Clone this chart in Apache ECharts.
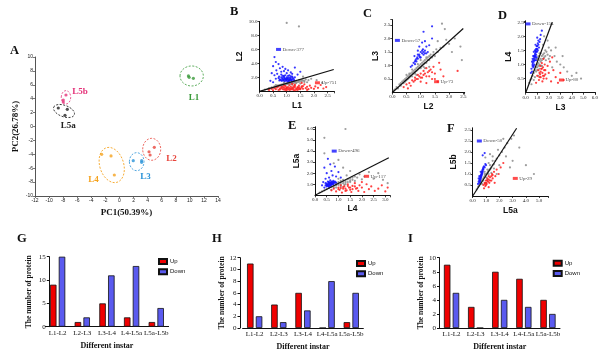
<!DOCTYPE html>
<html>
<head>
<meta charset="utf-8">
<script src="https://cdn.jsdelivr.net/npm/echarts@6/dist/echarts.min.js"></script>
<style>
  html, body { margin: 0; padding: 0; background: #fff; }
  #main { width: 601px; height: 352px; }
</style>
</head>
<body>
<div id="main"></div>
<script>
// ---- A: PCA scores ----
const pcaL1 = [[9.8, 7.27], [9.9, 7.08], [10.5, 6.93]];
const pcaL2 = [[4.2, -3.63], [4.95, -3.0], [4.35, -4.1]];
const pcaL3 = [[1.96, -4.92], [3.15, -4.92], [3.15, -5.16]];
const pcaL4 = [[-2.53, -4.0], [-1.2, -4.24], [-0.73, -6.98]];
const pcaL5a = [[-8.69, 2.66], [-7.41, 2.47], [-7.74, 1.61]];
const pcaL5b = [[-7.6, 4.53], [-7.98, 3.81], [-7.98, 3.52]];

// ---- B-F: expression scatter (hand read, approximate) ----
const bOther = [[0.2,0.25],[0.3,0.3],[0.35,0.45],[0.4,0.4],[0.45,0.55],[0.5,0.5],[0.55,0.7],[0.6,0.6],[0.65,0.8],[0.7,0.75],[0.75,0.9],[0.8,0.85],[0.85,1.0],[0.9,0.95],[0.95,1.1],[1.0,1.05],[1.05,1.2],[1.1,1.1],[1.15,1.3],[1.2,1.2],[1.25,1.4],[1.3,1.3],[1.35,1.5],[1.4,1.35],[1.45,1.6],[1.5,1.5],[1.55,1.65],[1.6,1.55],[1.7,1.7],[1.8,1.6],[1.9,1.8],[1.0,9.8],[1.45,9.3],[1.6,2.1],[1.75,1.3],[0.9,1.3],[1.2,0.95],[1.35,1.15],[1.65,1.35],[0.6,0.9],[1.1,1.45],[2.1,1.6],[2.3,1.2],[1.5,1.1],
  [0.7,0.85],[0.8,0.95],[0.9,1.05],[1.0,1.15],[1.1,1.25],[1.2,1.35],[1.3,1.45],[0.95,0.9],[1.05,1.0],[1.15,1.05],[1.25,1.15],[1.35,1.25],[1.45,1.35],[1.55,1.4],[1.65,1.5],[0.85,0.8]];
const bUp = [[0.35,0.2],[0.45,0.35],[0.5,0.15],[0.55,0.45],[0.6,0.3],[0.65,0.55],[0.7,0.2],[0.75,0.4],[0.8,0.65],[0.85,0.3],[0.9,0.5],[0.95,0.75],[1.0,0.35],[1.05,0.6],[1.1,0.85],[1.15,0.25],[1.2,0.5],[1.25,0.7],[1.3,0.95],[1.35,0.4],[1.4,0.6],[1.45,0.8],[1.5,0.3],[1.55,0.55],[1.6,0.75],[1.65,1.0],[1.7,0.45],[1.75,0.65],[1.8,0.3],[1.85,0.8],[1.9,0.5],[2.0,0.35],[2.05,0.7],[2.15,0.5],[2.25,0.9],[2.35,0.4],[2.45,0.6],[1.0,0.15],[1.3,0.15],[0.9,0.8],[1.2,1.05],[1.55,1.2],[0.7,0.7],[1.4,0.2],[1.75,0.2],
  [0.75,0.25],[0.8,0.45],[0.85,0.6],[0.9,0.25],[0.95,0.4],[1.0,0.55],[1.05,0.3],[1.1,0.45],[1.15,0.65],[1.2,0.3],[1.25,0.45],[1.3,0.6],[1.35,0.25],[1.4,0.45],[1.45,0.55],[1.5,0.4],[1.55,0.7],[1.6,0.35],[1.1,0.2],[1.25,0.2],[0.95,0.2],[1.45,0.3],[1.3,0.8],[1.15,0.4],[1.0,0.5]];
const bDown = [[0.55,4.9],[0.6,4.2],[0.5,3.6],[0.7,3.9],[0.75,3.3],[0.62,3.0],[0.85,3.5],[0.9,2.9],[0.95,3.2],[1.05,3.0],[1.15,2.7],[1.3,3.4],[0.45,2.6],[0.55,2.3],[0.65,2.5],[0.72,2.1],[0.8,2.4],[0.85,1.9],[0.9,2.2],[0.95,1.8],[1.0,2.0],[1.05,1.7],[1.1,2.3],[1.15,1.9],[1.2,2.1],[1.25,1.8],[1.3,2.0],[0.75,1.7],[0.82,1.5],[0.88,1.65],[0.93,1.45],[0.98,1.6],[1.03,1.4],[1.08,1.55],[1.13,1.65],[1.18,1.5],[0.7,1.9],[0.6,1.8],[1.4,2.4],[1.5,2.8],[0.4,1.5],[0.5,1.3],[1.0,2.6],[0.8,2.8],[1.2,2.5],
  [0.78,1.6],[0.83,1.75],[0.87,1.55],[0.92,1.9],[0.97,1.7],[1.02,1.85],[1.07,1.45],[1.12,1.75],[1.17,1.6],[1.22,1.95],[0.8,2.0],[0.9,2.05],[1.0,1.55],[1.1,1.95],[1.2,1.7],[0.85,2.2],[0.95,2.3],[1.05,2.2],[1.15,2.15],[0.73,1.55],[1.27,1.6],[1.0,1.75],[0.9,1.7],[1.1,1.6],[1.05,1.9]];

const cOther = [[0.05,0.08],[0.1,0.12],[0.15,0.2],[0.2,0.15],[0.25,0.3],[0.3,0.25],[0.35,0.4],[0.4,0.35],[0.45,0.5],[0.5,0.45],[0.55,0.6],[0.6,0.55],[0.65,0.7],[0.7,0.6],[0.75,0.8],[0.8,0.75],[0.85,0.9],[0.9,0.85],[0.95,1.0],[1.0,0.95],[1.05,1.1],[1.1,1.05],[1.15,1.2],[1.2,1.1],[1.25,1.3],[1.3,1.2],[1.35,1.4],[1.4,1.3],[1.45,1.5],[1.5,1.35],[1.55,1.6],[1.6,1.5],[1.7,1.65],[1.8,1.7],[1.9,1.95],[2.0,1.8],[2.2,2.0],[1.75,2.55],[1.85,2.35],[2.4,1.7],[2.45,1.2],[1.6,1.9],[1.3,0.95],[1.0,1.2],[0.7,0.85],[0.5,0.65],[0.85,0.65],[1.15,0.9],[2.1,1.5],
  [0.3,0.35],[0.4,0.45],[0.5,0.55],[0.6,0.65],[0.7,0.75],[0.8,0.85],[0.9,0.95],[1.0,1.05],[1.1,1.15],[1.2,1.25],[1.3,1.35],[0.45,0.4],[0.55,0.5],[0.65,0.6],[0.75,0.7],[0.85,0.8],[0.95,0.9],[1.05,1.0],[1.15,1.1],[1.25,1.2],[1.35,1.3],[1.45,1.4],[0.6,0.7],[0.8,0.7],[1.0,0.9],[1.2,1.3],[0.9,1.05],[1.1,0.95]];
const cUp = [[0.4,0.2],[0.5,0.3],[0.6,0.35],[0.65,0.25],[0.7,0.45],[0.75,0.4],[0.8,0.55],[0.85,0.5],[0.9,0.65],[0.95,0.6],[1.0,0.7],[1.05,0.55],[1.1,0.8],[1.15,0.7],[1.2,0.9],[1.25,0.75],[1.3,0.6],[1.35,0.85],[1.4,0.5],[1.45,0.95],[1.5,0.7],[1.6,0.4],[1.7,0.85],[1.8,0.6],[1.0,0.4],[1.2,0.35],[2.3,0.8],[0.55,0.15],[1.65,1.1],
  [0.9,0.5],[1.0,0.55],[1.1,0.65],[1.2,0.6],[1.3,0.8],[0.8,0.45],[1.4,0.75],[1.5,0.5]];
const cDown = [[0.65,0.95],[0.7,1.0],[0.75,1.1],[0.8,1.05],[0.82,1.2],[0.85,1.15],[0.88,1.3],[0.9,1.25],[0.95,1.4],[0.98,1.3],[1.0,1.5],[1.05,1.45],[1.08,1.6],[1.1,1.4],[1.15,1.55],[1.2,1.7],[1.25,1.5],[1.3,1.75],[0.95,1.7],[1.05,1.85],[0.78,1.35],[1.15,1.9],[1.4,2.0],[0.9,1.55],[1.2,1.45],[1.4,2.45],[1.1,2.25],
  [0.85,1.25],[0.95,1.35],[1.0,1.3],[1.05,1.55],[1.1,1.5],[0.8,1.15],[0.9,1.4],[1.15,1.45]];

const dOther = [[0.3,0.35],[0.4,0.45],[0.5,0.5],[0.6,0.6],[0.7,0.7],[0.8,0.8],[0.9,0.9],[1.0,1.0],[1.1,1.05],[1.2,1.15],[1.3,1.2],[1.4,1.3],[1.5,1.35],[1.6,1.4],[1.7,1.5],[1.8,1.45],[2.0,1.6],[2.2,1.5],[2.5,1.3],[2.7,1.1],[3.0,1.0],[3.3,0.9],[3.6,0.75],[4.0,0.6],[4.4,0.7],[4.8,0.5],[1.5,1.7],[1.2,1.4],[0.9,1.2],[1.1,0.6],[1.35,0.95],[1.75,1.15],[2.0,1.2],[2.3,0.9],[1.0,0.8],[0.8,0.55],[2.6,1.6],[3.2,1.3],[1.6,2.0],[1.9,1.85],[0.5,0.3],[0.7,0.45],
  [0.9,0.75],[1.0,0.9],[1.1,0.95],[1.2,1.0],[1.3,1.1],[1.4,1.15],[1.5,1.2],[1.6,1.25],[1.2,0.85],[1.4,0.95],[1.7,1.3],[1.9,1.35],[2.1,1.3],[1.3,1.4],[1.0,1.2],[1.1,1.3]];
const dUp = [[1.0,0.6],[1.1,0.8],[1.2,0.7],[1.25,0.95],[1.3,0.55],[1.35,0.85],[1.4,1.05],[1.45,0.7],[1.5,0.9],[1.55,1.2],[1.6,0.6],[1.65,1.0],[1.7,0.8],[1.8,0.5],[1.9,0.95],[2.0,0.7],[2.1,1.1],[2.2,0.4],[2.4,0.8],[2.6,0.55],[2.8,0.35],[3.0,0.7],[3.3,0.45],[1.15,0.45],[1.45,0.4],[2.3,1.25],[0.9,0.35],
  [1.2,0.55],[1.3,0.75],[1.4,0.85],[1.5,0.6],[1.6,0.8],[1.7,0.65],[1.25,0.65],[1.55,0.5]];
const dDown = [[0.45,0.7],[0.5,0.85],[0.55,0.75],[0.6,0.95],[0.62,1.05],[0.65,0.9],[0.7,1.1],[0.72,1.2],[0.75,1.0],[0.78,1.3],[0.8,1.15],[0.82,1.4],[0.85,1.25],[0.88,1.5],[0.9,1.35],[0.95,1.55],[0.98,1.45],[1.0,1.65],[1.05,1.5],[1.1,1.7],[1.15,1.6],[1.2,1.8],[1.25,1.9],[0.6,1.2],[0.7,1.45],[0.85,1.7],[1.0,1.95],[1.3,2.05],[1.4,2.2],[0.55,1.1],[0.9,1.15],
  [0.65,1.15],[0.75,1.25],[0.8,1.35],[0.85,1.45],[0.9,1.55],[0.95,1.65],[0.7,1.3],[0.8,1.5],[0.9,1.45],[1.0,1.55],[1.05,1.75],[0.75,1.15],[0.85,1.3],[0.95,1.25],[1.1,1.85],[0.6,1.0],[0.7,0.95],[0.65,1.3]];

const eOther = [[0.2,0.25],[0.3,0.35],[0.4,0.45],[0.5,0.55],[0.6,0.65],[0.7,0.75],[0.8,0.85],[0.9,0.95],[1.0,1.05],[1.1,1.15],[1.2,1.25],[1.3,1.3],[1.4,1.45],[1.5,1.5],[1.6,1.6],[1.7,1.7],[1.8,1.6],[1.9,1.9],[2.1,1.7],[2.3,2.1],[2.5,1.5],[2.7,2.0],[1.3,6.0],[0.4,5.2],[0.4,3.8],[1.0,3.2],[1.2,2.5],[0.8,2.9],[1.5,2.2],[1.0,1.5],[1.25,0.95],[1.5,1.2],[0.9,0.7],[1.1,0.8],[0.7,0.5],[1.7,1.3],[2.0,1.45],[1.35,1.8],[3.1,1.1],[2.9,1.4],
  [0.9,0.9],[1.0,0.95],[1.1,1.0],[1.2,1.1],[1.3,1.15],[1.4,1.2],[1.0,1.2],[1.2,1.4],[0.8,0.7],[1.5,1.3],[1.6,1.4],[1.1,1.3],[1.3,1.0],[0.9,1.1]];
const eUp = [[0.7,0.45],[0.8,0.6],[0.9,0.35],[1.0,0.7],[1.05,0.5],[1.1,0.9],[1.2,0.6],[1.25,0.8],[1.3,0.4],[1.4,1.0],[1.45,0.7],[1.5,0.5],[1.6,0.85],[1.7,1.1],[1.75,0.6],[1.85,0.4],[1.9,0.9],[2.0,0.7],[2.1,0.3],[2.2,1.0],[2.3,0.55],[2.4,0.8],[2.55,0.4],[2.7,0.6],[2.85,0.9],[3.0,0.35],[3.1,0.7],[1.15,0.25],[1.55,0.3],[2.0,1.2],
  [1.0,0.55],[1.2,0.75],[1.3,0.6],[1.4,0.85],[1.5,0.7],[1.6,0.55],[1.7,0.8],[1.8,0.65],[1.1,0.65],[1.35,0.45]];
const eDown = [[0.4,0.7],[0.45,0.9],[0.5,0.8],[0.5,1.05],[0.55,0.95],[0.58,0.85],[0.6,1.1],[0.62,0.9],[0.65,1.0],[0.68,1.15],[0.7,0.95],[0.72,1.05],[0.75,1.2],[0.78,1.0],[0.8,1.1],[0.85,1.25],[0.9,1.15],[0.55,1.25],[0.65,1.35],[0.45,1.5],[0.6,1.6],[0.75,1.8],[0.5,2.0],[0.7,2.2],[0.9,1.7],[0.4,2.5],[0.65,2.8],[0.55,3.3],[1.0,2.1],[0.35,1.2],[0.85,2.6],[1.1,1.6],[0.3,0.9],[0.6,0.75],
  [0.5,0.9],[0.55,1.0],[0.6,0.95],[0.65,1.1],[0.7,1.05],[0.75,1.0],[0.8,1.2],[0.6,1.2],[0.7,1.25],[0.5,0.95],[0.55,0.85],[0.65,0.85],[0.75,1.1],[0.62,1.05],[0.68,0.95],[0.72,1.15],[0.58,1.15],[0.45,1.1],[0.85,1.15],[0.78,1.3]];

const fOther = [[0.3,0.3],[0.4,0.4],[0.5,0.5],[0.6,0.6],[0.7,0.7],[0.8,0.8],[0.9,0.9],[1.0,1.0],[1.1,1.05],[1.2,1.15],[1.3,1.2],[1.4,1.3],[1.5,1.4],[1.6,1.45],[1.7,1.6],[1.8,1.7],[2.0,1.85],[2.2,2.0],[2.4,2.2],[2.6,2.4],[2.9,2.6],[3.1,2.75],[2.5,1.8],[3.0,1.6],[3.5,2.2],[1.5,1.8],[1.2,1.5],[2.0,1.4],[0.9,1.1],[1.1,0.75],[1.6,1.25],[2.8,1.3],[4.0,1.4],[4.6,1.0],[1.0,0.6],[0.7,0.55],[1.4,1.05],[1.9,2.1],[2.3,2.6],[0.95,1.75],[1.3,1.9],[1.8,1.0],
  [0.45,0.45],[0.55,0.55],[0.65,0.65],[0.75,0.75],[0.85,0.85],[0.95,0.95],[1.05,1.0],[1.15,1.1],[1.25,1.2],[1.35,1.25],[0.8,0.7],[1.0,0.85],[1.2,1.0],[0.9,1.0],[1.1,1.2],[1.3,1.4],[1.5,1.6]];
const fUp = [[0.8,0.5],[0.9,0.6],[0.95,0.45],[1.0,0.7],[1.05,0.55],[1.1,0.8],[1.15,0.65],[1.2,0.9],[1.25,0.6],[1.3,0.85],[1.4,0.7],[1.45,1.0],[1.5,0.8],[1.6,1.1],[1.7,0.9],[1.8,1.2],[1.95,1.0],[2.1,1.3],[1.2,0.4],[0.85,0.35],[2.3,1.5],[1.65,0.6],
  [0.9,0.55],[1.0,0.6],[1.1,0.7],[1.2,0.75],[1.3,0.7],[1.4,0.9],[1.5,0.95],[1.0,0.5]];
const fDown = [[0.4,0.55],[0.45,0.65],[0.5,0.6],[0.52,0.75],[0.55,0.7],[0.58,0.85],[0.6,0.8],[0.62,0.95],[0.65,0.9],[0.68,1.05],[0.7,1.0],[0.72,1.15],[0.75,1.1],[0.78,1.25],[0.8,1.2],[0.85,1.35],[0.9,1.3],[0.95,1.45],[0.6,1.1],[0.5,0.9],[0.9,1.95],[0.75,1.85],[1.0,1.4],[0.45,0.8],
  [0.5,0.7],[0.55,0.8],[0.6,0.9],[0.65,1.0],[0.7,1.1],[0.75,1.2],[0.55,0.65],[0.62,0.85],[0.68,0.95],[0.72,1.05],[0.8,1.3],[0.58,0.75]];

// fitted lines (start, end) and counts
const bLine = [[0, 0], [2.73, 3.13]];
const cLine = [[0, 0], [2.5, 2.37]];
const dLine = [[0, 0], [2.3, 2.5]];
const eLine = [[0, 0], [3.15, 3.4]];
const fLine = [[0, 0], [3.3, 3.08]];
const bTags = [['Down-377', 0.7, 6.0], ['Up-751', 2.13, 1.22]];
const cTags = [['Down-57', 0.18, 1.93], ['Up-73', 1.56, 0.4]];
const dTags = [['Down-154', 0.2, 2.44], ['Up-80', 3.1, 0.45]];
const eTags = [['Down-496', 0.82, 4.0], ['Up-117', 2.2, 1.72]];
const fTags = [['Down-50', 0.5, 2.5], ['Up-29', 3.2, 0.8]];
const fYLabels = ['', '0.5', '1.0', '1.5', '2.0', '2.5', '2.5'];

// ---- G-I: protein counts ----
const instars = ['L1-L2', 'L2-L3', 'L3-L4', 'L4-L5a', 'L5a-L5b'];
const gUp = [9, 1, 5, 2, 1];
const gDown = [15, 2, 11, 13, 4];
const hUp = [11, 4, 6, 0, 1];
const hDown = [2, 1, 3, 8, 6];
const iUp = [9, 3, 8, 7, 4];
const iDown = [5, 0, 4, 3, 2];

const SERIF = 'Liberation Serif';
const SANS = 'Liberation Sans';
const BLUE = '#1414ff', RED = '#ff2020', GREY = '#8c8c8c';

function numAxis(grid, min, max, step, name, gap, opts) {
  opts = opts || {};
  return {
    type: 'value', gridIndex: grid, min: min, max: max, interval: step,
    name: name, nameLocation: 'middle', nameGap: gap,
    nameTextStyle: opts.nameStyle || { fontFamily: SANS, fontWeight: 'bold', fontSize: 8.5, color: '#111' },
    axisLine: { show: true, onZero: false, lineStyle: { color: opts.lineColor || '#111', width: 1 } },
    axisTick: { show: true, length: 2, lineStyle: { color: opts.lineColor || '#111', width: 0.8 } },
    axisLabel: {
      fontFamily: opts.labelFont || SERIF, fontSize: opts.labelSize || 5, margin: 2, color: '#222',
      showMinLabel: opts.showMin !== false,
      formatter: opts.formatter || function (v) {
        const k = Math.round(v / step);
        return Math.abs(v / step - k) < 1e-6 ? v.toFixed(1) : '';
      }
    },
    splitLine: { show: false }
  };
}

function cloud(grid, pts, color) {
  return {
    type: 'scatter', xAxisIndex: grid, yAxisIndex: grid, data: pts,
    symbolSize: 2.2, itemStyle: { color: color, opacity: 0.85 }, silent: true
  };
}

function scatterPanel(grid, other, up, down, line, tags) {
  return [
    cloud(grid, other, GREY),
    cloud(grid, up, RED),
    cloud(grid, down, BLUE),
    {
      type: 'line', xAxisIndex: grid, yAxisIndex: grid, data: line,
      symbol: 'none', lineStyle: { color: '#111', width: 1.2 }, z: 5, silent: true
    },
    {
      type: 'scatter', xAxisIndex: grid, yAxisIndex: grid, symbol: 'rect', symbolSize: [5, 3], z: 6,
      data: tags.map(function (t) {
        return { name: t[0], value: [t[1], t[2]], itemStyle: { color: t[0].indexOf('Up') === 0 ? RED : BLUE } };
      }),
      label: { show: true, position: 'right', distance: 1.5, formatter: '{b}', fontFamily: SERIF, fontSize: 5, color: '#222' }
    }
  ];
}

function barAxes(grid, max, step, yGap, yOffset) {
  return {
    x: {
      type: 'category', gridIndex: grid, data: instars,
      name: 'Different instar', nameLocation: 'middle', nameGap: 15,
      nameTextStyle: { fontFamily: SERIF, fontWeight: 'bold', fontSize: 8, color: '#111' },
      axisLine: { lineStyle: { color: '#111', width: 1 } },
      axisTick: { alignWithLabel: true, length: 2, lineStyle: { color: '#111' } },
      axisLabel: { interval: 0, fontFamily: SERIF, fontSize: 7, margin: 3, color: '#111' }
    },
    y: {
      type: 'value', gridIndex: grid, min: 0, max: max, interval: step, offset: yOffset,
      name: 'The number of protein', nameLocation: 'middle', nameGap: yGap,
      nameTextStyle: { fontFamily: SERIF, fontWeight: 'bold', fontSize: 7.5, color: '#111' },
      axisLine: { show: true, lineStyle: { color: '#111', width: 1 } },
      axisTick: { show: true, length: 2.5, lineStyle: { color: '#111' } },
      axisLabel: { fontFamily: SERIF, fontSize: 7, margin: 3.5, color: '#111' },
      splitLine: { show: false }
    }
  };
}

function bars(grid, up, down) {
  const common = { type: 'bar', xAxisIndex: grid, yAxisIndex: grid, barWidth: 6.5, barGap: '35%' };
  return [
    Object.assign({ name: 'Up', data: up, itemStyle: { color: '#f00000', borderColor: '#111', borderWidth: 0.8 } }, common),
    Object.assign({ name: 'Down', data: down, itemStyle: { color: '#5a5aef', borderColor: '#111', borderWidth: 0.8 } }, common)
  ];
}

const gAx = barAxes(6, 15, 5, 16, -4);
const hAx = barAxes(7, 12, 2, 10, 2.6);
const iAx = barAxes(8, 10, 2, 11.5, 0);

const pcaAxisStyle = {
  nameStyle: { fontFamily: SERIF, fontWeight: 'bold', fontSize: 9, color: '#111' },
  lineColor: '#555', labelFont: SANS, labelSize: 5,
  formatter: function (v) { return String(v); }
};

const letters = [['A', 10, 44], ['B', 230, 5], ['C', 363, 7], ['D', 498, 9], ['E', 288, 119],
  ['F', 447, 122], ['G', 17, 232], ['H', 212, 232], ['I', 408, 232]];

const pcaGroups = [
  { name: 'L1', data: pcaL1, color: '#3a9a3a' },
  { name: 'L2', data: pcaL2, color: '#e8453c' },
  { name: 'L3', data: pcaL3, color: '#2b93d8' },
  { name: 'L4', data: pcaL4, color: '#f5a31f' },
  { name: 'L5a', data: pcaL5a, color: '#222222' },
  { name: 'L5b', data: pcaL5b, color: '#e5337a' }
];

const option = {
  animation: false,
  backgroundColor: '#fff',
  textStyle: { fontFamily: SERIF },
  title: letters.map(function (l) {
    return { text: l[0], left: l[1], top: l[2], padding: 0,
      textStyle: { fontFamily: SERIF, fontWeight: 'bold', fontSize: 12.5, color: '#111' } };
  }),
  legend: [[158, 258], [356, 260], [552.7, 259.8]].map(function (p) {
    return { data: ['Up', 'Down'], left: p[0], top: p[1], orient: 'vertical', padding: 0,
      itemWidth: 8, itemHeight: 5, itemGap: 3.3, icon: 'rect', selectedMode: false,
      textStyle: { fontFamily: SANS, fontSize: 6, color: '#111', padding: [0, 0, 0, -2] } };
  }),
  grid: [
    { left: 35, top: 57, width: 183, height: 139 },
    { left: 259.5, top: 21.5, width: 74.8, height: 69.8 },
    { left: 392.3, top: 19.6, width: 72.4, height: 72.9 },
    { left: 525.7, top: 20.8, width: 72.2, height: 71.9 },
    { left: 315, top: 126.8, width: 75, height: 68.5 },
    { left: 472.7, top: 127.8, width: 75.2, height: 68.2 },
    { left: 45.3, top: 256.7, width: 123.3, height: 70 },
    { left: 242.6, top: 257.7, width: 120.75, height: 70.3 },
    { left: 439.5, top: 257.7, width: 120.5, height: 70.6 }
  ],
  xAxis: [
    numAxis(0, -12, 14, 2, 'PC1(50.39%)', 12, pcaAxisStyle),
    numAxis(1, 0, 2.75, 0.5, 'L1', 10),
    numAxis(2, 0, 2.55, 0.5, 'L2', 10),
    numAxis(3, 0, 6.05, 1, 'L3', 10),
    numAxis(4, 0, 3.2, 0.5, 'L4', 9),
    numAxis(5, 0, 5.65, 1, 'L5a', 10),
    gAx.x, hAx.x, iAx.x
  ],
  yAxis: [
    numAxis(0, -10, 10, 2, 'PC2(26.78%)', 15, pcaAxisStyle),
    numAxis(1, 0, 10, 2, 'L2', 15, { showMin: false }),
    numAxis(2, 0, 2.7, 0.5, 'L3', 10, { showMin: false }),
    numAxis(3, 0, 2.55, 0.5, 'L4', 11, { showMin: false }),
    numAxis(4, 0, 6.2, 1, 'L5a', 14, { showMin: false }),
    numAxis(5, 0, 3.1, 0.5, 'L5b', 15, { showMin: false,
      formatter: function (v) { return fYLabels[Math.round(v / 0.5)] || ''; } }),
    gAx.y, hAx.y, iAx.y
  ],
  series: [].concat(
    pcaGroups.map(function (g) {
      return { type: 'scatter', name: 'pca-' + g.name, xAxisIndex: 0, yAxisIndex: 0, data: g.data,
        symbolSize: 3.2, itemStyle: { color: g.color } };
    }),
    scatterPanel(1, bOther, bUp, bDown, bLine, bTags),
    scatterPanel(2, cOther, cUp, cDown, cLine, cTags),
    scatterPanel(3, dOther, dUp, dDown, dLine, dTags),
    scatterPanel(4, eOther, eUp, eDown, eLine, eTags),
    scatterPanel(5, fOther, fUp, fDown, fLine, fTags),
    bars(6, gUp, gDown),
    bars(7, hUp, hDown),
    bars(8, iUp, iDown)
  )
};

const chart = echarts.init(document.getElementById('main'), null, { renderer: 'canvas' });
chart.setOption(option);

// dashed group ellipses and group labels in panel A, placed through the axis scales
const rings = [
  { g: 'L1', c: [10.26, 7.27], rx: 1.66, ry: 1.44, rot: 0, lab: [10.6, 4.2] },
  { g: 'L2', c: [4.58, -3.28], rx: 1.28, ry: 1.58, rot: 0, lab: [7.4, -4.6] },
  { g: 'L3', c: [2.45, -5.06], rx: 1.04, ry: 1.3, rot: 0, lab: [3.7, -7.2] },
  { g: 'L4', c: [-1.1, -5.54], rx: 1.7, ry: 2.6, rot: 0.3, lab: [-3.7, -7.7] },
  { g: 'L5a', c: [-7.88, 2.23], rx: 1.56, ry: 0.82, rot: -0.35, lab: [-7.27, 0.12] },
  { g: 'L5b', c: [-7.6, 4.2], rx: 0.67, ry: 0.96, rot: 0, lab: [-5.6, 5.0] }
];
const o = chart.convertToPixel({ gridIndex: 0 }, [0, 0]);
const u = chart.convertToPixel({ gridIndex: 0 }, [1, 1]);
const sx = Math.abs(u[0] - o[0]), sy = Math.abs(u[1] - o[1]);
const gfx = [];
rings.forEach(function (r) {
  const col = pcaGroups.filter(function (g) { return g.name === r.g; })[0].color;
  const p = chart.convertToPixel({ gridIndex: 0 }, r.c);
  const t = chart.convertToPixel({ gridIndex: 0 }, r.lab);
  gfx.push({
    type: 'ellipse', x: p[0], y: p[1], rotation: r.rot, silent: true,
    shape: { cx: 0, cy: 0, rx: r.rx * sx, ry: r.ry * sy },
    style: { fill: 'none', stroke: col, lineWidth: 0.8, lineDash: [2, 1.5] }
  });
  gfx.push({
    type: 'text', x: t[0], y: t[1], silent: true,
    style: { text: r.g, fill: col, font: 'bold 9px "Liberation Serif"', align: 'center', verticalAlign: 'middle' }
  });
});
chart.setOption({ graphic: gfx });
</script>
</body>
</html>
